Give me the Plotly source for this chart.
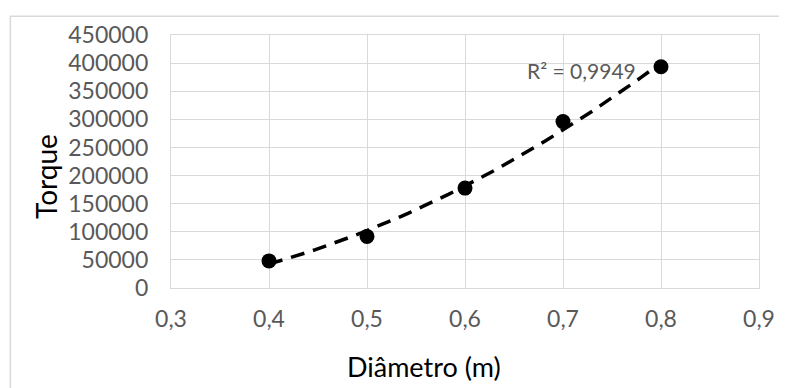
import numpy as np
import plotly.graph_objects as go

diametro = [0.4, 0.5, 0.6, 0.7, 0.8]
torque = [48200, 91800, 177700, 296000, 393600]
x_ticks = [0.3, 0.4, 0.5, 0.6, 0.7, 0.8, 0.9]
x_tick_labels = ["0,3", "0,4", "0,5", "0,6", "0,7", "0,8", "0,9"]
y_ticks = [0, 50000, 100000, 150000, 200000, 250000, 300000, 350000, 400000, 450000]
y_tick_labels = [str(v) for v in y_ticks]
r2_label = "R² = 0,9949"

# Excel-style polynomial (order 2) trendline fitted to the data
coef = np.polyfit(diametro, torque, 2)
xt = np.linspace(min(diametro), max(diametro), 60)
yt = np.polyval(coef, xt)

# page body has an 8px margin: work in figure coordinates = reference - 8
OFF = 8
W, H = 787 - OFF, 388 - OFF
L, R, T, B = 171 - OFF, 764 - OFF, 33 - OFF, 288 - OFF
FONT = "Lato"

fig = go.Figure()
fig.add_trace(go.Scatter(x=xt, y=yt, mode="lines",
                         line=dict(color="black", width=3.5, dash="14px,9px"),
                         showlegend=False))
fig.add_trace(go.Scatter(x=diametro, y=torque, mode="markers",
                         marker=dict(color="black", size=15), showlegend=False))

axis_common = dict(showgrid=True, gridcolor="#d9d9d9", gridwidth=1.3,
                   showline=True, linecolor="#d9d9d9", linewidth=1.3,
                   zeroline=False, ticks="", mirror=True,
                   tickfont=dict(family=FONT, size=23, color="#595959"))

fig.update_xaxes(range=[0.3, 0.9], tickvals=x_ticks, ticktext=x_tick_labels,
                 ticklabelstandoff=10, **axis_common)
fig.update_yaxes(range=[0, 450000], tickvals=y_ticks, ticktext=y_tick_labels,
                 ticklabelstandoff=17, **axis_common)

def px(xp):
    return (xp - OFF - L) / (R - L)

def py(yp):
    return (B - (yp - OFF)) / (B - T)

fig.add_annotation(text="Diâmetro (m)", xref="paper", yref="paper",
                   x=px(426), y=py(367), showarrow=False,
                   font=dict(family=FONT, size=27, color="black"),
                   xanchor="center", yanchor="middle")
fig.add_annotation(text="Torque", xref="paper", yref="paper",
                   x=px(45), y=py(176), showarrow=False, textangle=-90,
                   font=dict(family=FONT, size=28, color="black"),
                   xanchor="center", yanchor="middle")
fig.add_annotation(text=r2_label, xref="paper", yref="paper",
                   x=px(585), y=py(68.5), showarrow=False,
                   font=dict(family=FONT, size=21, color="#595959"),
                   xanchor="center", yanchor="middle")

# outer chart border (partially outside the view like the reference)
fig.add_shape(type="rect", xref="paper", yref="paper",
              x0=px(9), x1=px(800), y0=py(400), y1=py(14),
              line=dict(color="#d9d9d9", width=1.5), layer="below")

fig.update_layout(width=W, height=H,
                  margin=dict(l=L, r=W - R, t=T, b=H - B),
                  paper_bgcolor="white", plot_bgcolor="white")

fig.write_html("out.html")
